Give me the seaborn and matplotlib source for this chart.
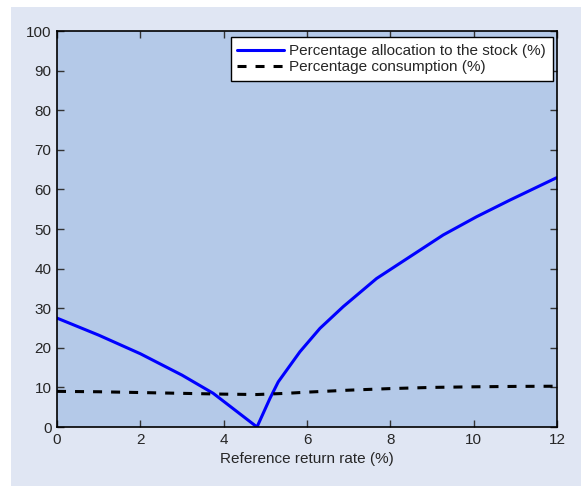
import matplotlib
matplotlib.use("Agg")
import matplotlib.pyplot as plt
from matplotlib.patches import Rectangle
import seaborn as sns
import pandas as pd

# Data
stock_x = [0, 1, 2, 3, 3.75, 4.8, 5.11, 5.31, 5.83, 6.31, 6.87, 7.67, 8.47, 9.27, 10.07, 10.87, 12]
stock_y = [27.5, 23.2, 18.5, 13.1, 8.5, 0.0, 7.2, 11.4, 19.0, 24.9, 30.4, 37.5, 43.0, 48.5, 53.1, 57.3, 63.0]
cons_x = [0, 1, 2, 3, 4, 4.8, 5.5, 6, 7, 8, 9, 10, 11, 12]
cons_y = [9.0, 8.9, 8.7, 8.5, 8.3, 8.2, 8.5, 8.8, 9.3, 9.7, 10.0, 10.15, 10.25, 10.3]
stock_label = "Percentage allocation to the stock (%)"
cons_label = "Percentage consumption (%)"
x_ticks = [0, 2, 4, 6, 8, 10, 12]
y_ticks = [0, 10, 20, 30, 40, 50, 60, 70, 80, 90, 100]

sns.set_style("ticks")
plt.rcParams["font.family"] = ["Liberation Sans", "DejaVu Sans"]

fig = plt.figure(figsize=(5.81, 4.86), dpi=100)
fig.patch.set_facecolor("white")
fig.patches.append(Rectangle((11 / 581, 0), 1.0, 1 - 7 / 486,
                             transform=fig.transFigure, facecolor="#e0e6f3",
                             edgecolor="none", zorder=-10))

ax = fig.add_axes([57 / 581, 1 - 427 / 486, 500 / 581, 396 / 486])
ax.set_facecolor("#b4c9e8")

df_s = pd.DataFrame({"x": stock_x, "y": stock_y})
df_c = pd.DataFrame({"x": cons_x, "y": cons_y})
sns.lineplot(data=df_s, x="x", y="y", ax=ax, color="#0000ff", linewidth=2.2,
             label=stock_label, sort=False)
sns.lineplot(data=df_c, x="x", y="y", ax=ax, color="black", linewidth=2.2,
             label=cons_label, sort=False)
DASH = (2.95, 2.95)
ax.lines[1].set_dashes(DASH)

ax.set_xlim(0, 12)
ax.set_ylim(0, 100)
ax.set_xticks(x_ticks)
ax.set_yticks(y_ticks)
ax.set_xlabel("Reference return rate (%)", fontsize=11)
ax.set_ylabel("")
ax.tick_params(direction="in", length=5, width=1, labelsize=11, color="#333333",
               top=True, right=True, pad=4)
for s in ax.spines.values():
    s.set_visible(True)
    s.set_color("black")
    s.set_linewidth(1.2)

leg = ax.legend(loc="upper right", bbox_to_anchor=(1 - 4 / 500, 1 - 6 / 396),
                borderaxespad=0, fontsize=11, handlelength=3.05, handletextpad=0.35,
                labelspacing=0.15, borderpad=0.45, fancybox=False, frameon=True)
leg.get_frame().set_edgecolor("black")
leg.get_frame().set_linewidth(1.0)
leg.get_frame().set_facecolor("white")
leg.get_frame().set_alpha(1)
leg.legend_handles[1].set_dashes(DASH)

fig.savefig("out.png", dpi=100)
